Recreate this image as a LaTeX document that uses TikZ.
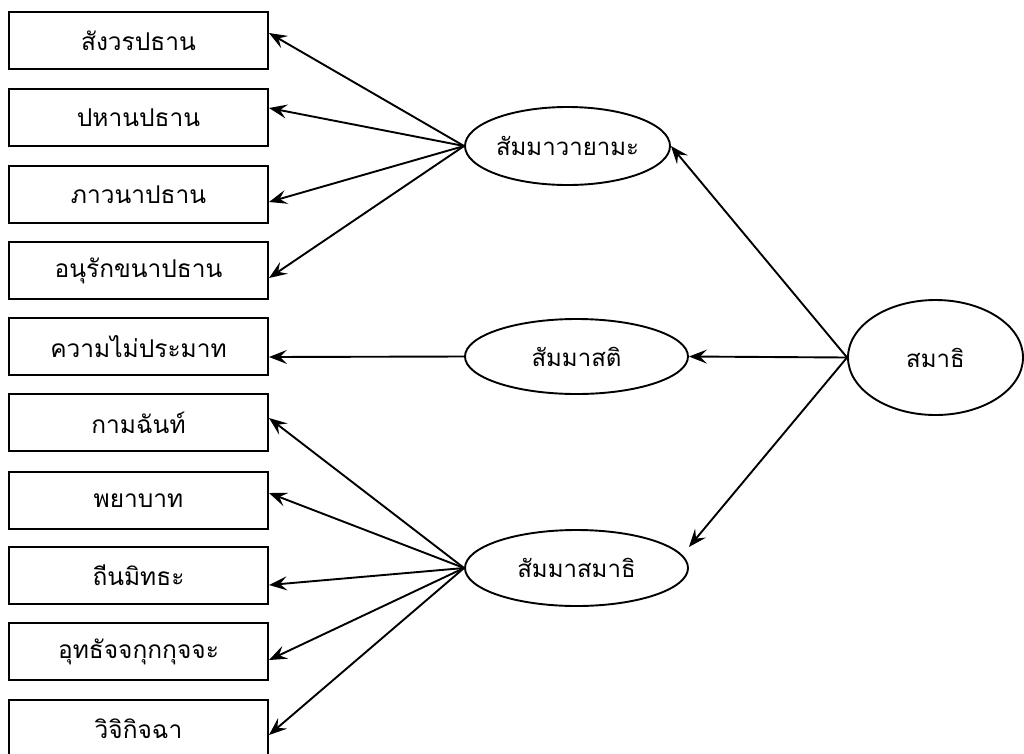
\documentclass[tikz,border=0pt]{standalone}
\usepackage{fontspec}
\newfontfamily\thaifont[Script=Thai]{Loma}
\usetikzlibrary{shapes.geometric,arrows.meta}
\tikzset{
  box/.style={draw,line width=2pt,minimum width=259pt,minimum height=57pt,inner sep=0pt,font=\thaifont\fontsize{24.5}{28}\selectfont},
  ell/.style={draw,ellipse,line width=1.9pt,inner sep=0pt,font=\thaifont\fontsize{24}{28}\selectfont},
  arr/.style={line width=1.9pt,-{Stealth[length=18pt,width=14pt,inset=7pt]}}
}
\begin{document}
\begin{tikzpicture}[x=1pt,y=-1pt]
\useasboundingbox (0,0) rectangle (1024,753);
\begin{scope}
\clip (0,0) rectangle (1024,753);
\node[box] (b1) at (138.5,40.5) {สังวรปธาน};
\node[box] (b2) at (138.5,117.5) {ปหานปธาน};
\node[box] (b3) at (138.5,194.5) {ภาวนาปธาน};
\node[box] (b4) at (138.5,270.5) {อนุรักขนาปธาน};
\node[box] (b5) at (138.5,346.5) {ความไม่ประมาท};
\node[box] (b6) at (138.5,422.5) {กามฉันท์};
\node[box] (b7) at (138.5,500.5) {พยาบาท};
\node[box] (b8) at (138.5,575.5) {ถีนมิทธะ};
\node[box] (b9) at (138.5,651.5) {อุทธัจจกุกกุจจะ};
\node[box] (b10) at (138.5,728.5) {วิจิกิจฉา};
\node[ell,minimum width=205pt,minimum height=78pt] (e1) at (567.5,146) {สัมมาวายามะ};
\node[ell,minimum width=223pt,minimum height=75pt] (e2) at (576.5,356.5) {สัมมาสติ};
\node[ell,minimum width=223pt,minimum height=76pt] (e3) at (576.5,568) {สัมมาสมาธิ};
\node[ell,minimum width=175pt,minimum height=115pt] (s) at (935.5,357.5) {สมาธิ};
\draw[arr] (e1.west) -- ([yshift=7.5pt]b1.east);
\draw[arr] (e1.west) -- ([yshift=9.5pt]b2.east);
\draw[arr] (e1.west) -- ([yshift=-7.5pt]b3.east);
\draw[arr] (e1.west) -- ([yshift=-7.5pt]b4.east);
\draw[arr] (e2.west) -- ([yshift=-10.5pt]b5.east);
\draw[arr] (e3.west) -- ([yshift=4.5pt]b6.east);
\draw[arr] (e3.west) -- ([yshift=7.5pt]b7.east);
\draw[arr] (e3.west) -- ([yshift=-9.5pt]b8.east);
\draw[arr] (e3.west) -- ([yshift=-8.5pt]b9.east);
\draw[arr] (e3.west) -- ([yshift=-6.5pt]b10.east);
\draw[arr] (s.west) -- (e1.east);
\draw[arr] (s.west) -- (e2.east);
\draw[arr] (s.west) -- ([yshift=21pt]e3.east);
\end{scope}
\end{tikzpicture}
\end{document}
